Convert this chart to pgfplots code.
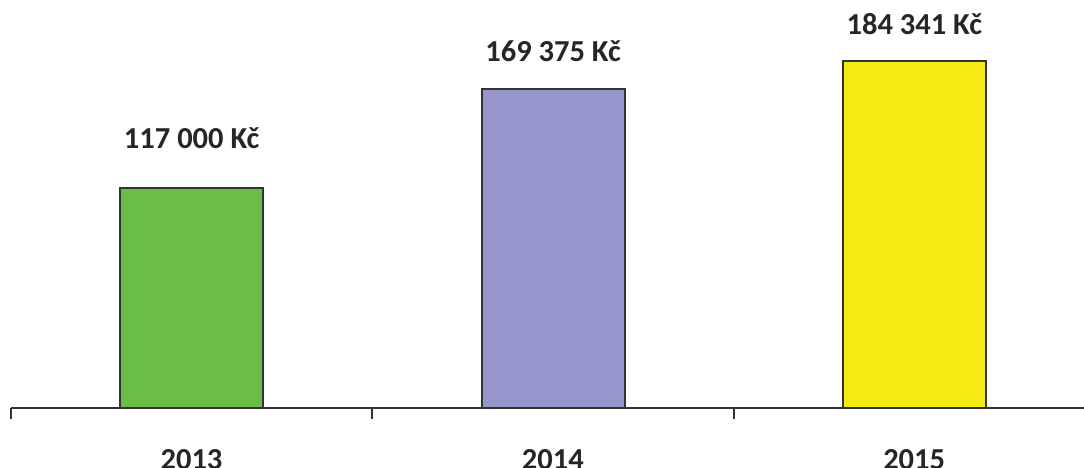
\documentclass[border=0pt]{standalone}
\usepackage{pgfplots}
\pgfplotsset{compat=1.18}
\usepackage{fontspec}
\setmainfont{Carlito}
\definecolor{cgreen}{RGB}{107,190,69}
\definecolor{cpurple}{RGB}{150,150,204}
\definecolor{cyellow}{RGB}{245,235,20}
\definecolor{cline}{RGB}{51,51,51}
\begin{document}
\begin{tikzpicture}
\begin{axis}[
  scale only axis,
  width=1073pt, height=408pt,
  xmin=-0.5, xmax=2.4695,
  ymin=0, ymax=216566,
  axis x line*=bottom,
  axis y line=none,
  axis line style={cline, line width=2pt, -},
  every outer x axis line/.append style={cline, line width=2pt, -},
  xtick={-0.5,0.5,1.5,2.5},
  xticklabels={2013,2014,2015,{}},
  major tick length=11pt,
  tick align=outside,
  every tick/.style={cline, line width=2pt},
  every major tick/.append style={cline, line width=2pt},
  xticklabel style={anchor=base, xshift=180.5pt, yshift=-50pt, font=\fontsize{30.5}{36}\selectfont\bfseries, text=black!85},
  ybar, bar width=143pt, bar shift=0pt,
  nodes near coords,
  point meta=explicit symbolic,
  every node near coord/.append style={anchor=base, font=\fontsize{30.5}{36}\selectfont\bfseries, text=black!85},
  clip=false,
]
\addplot[fill=cgreen, draw=cline, line width=2pt, every node near coord/.append style={yshift=39pt}] coordinates {(0,117000) [117 000 Kč]};
\addplot[fill=cpurple, draw=cline, line width=2pt, every node near coord/.append style={yshift=27pt}] coordinates {(1,169375) [169 375 Kč]};
\addplot[fill=cyellow, draw=cline, line width=2pt, every node near coord/.append style={yshift=26pt}] coordinates {(2,184341) [184 341 Kč]};
\end{axis}
\pgfresetboundingbox
\path (-11pt,-60pt) rectangle (1073pt,408pt);
\end{tikzpicture}
\end{document}
